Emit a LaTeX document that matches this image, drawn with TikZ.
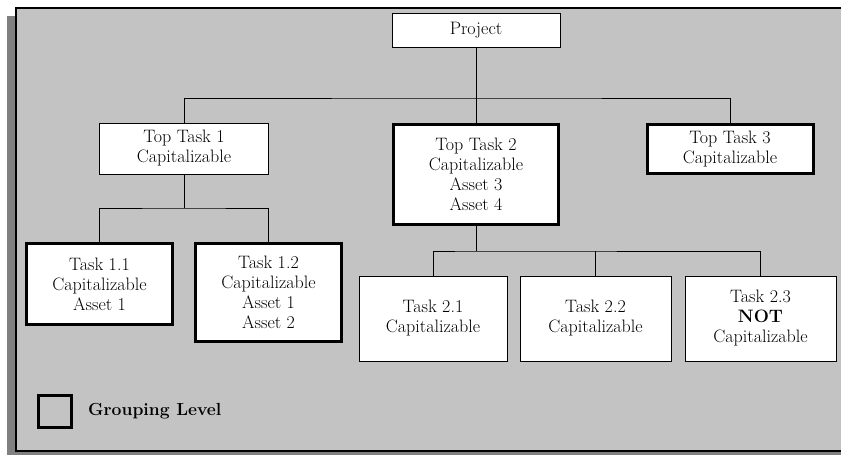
\documentclass[tikz,border=0pt]{standalone}
\usepackage{fontspec}
\definecolor{panelgray}{HTML}{C3C3C3}
\definecolor{shadowgray}{HTML}{808080}
\begin{document}
\begin{tikzpicture}[x=1pt,y=-1pt,
  txt/.style={font=\fontsize{18}{20}\selectfont},
  box/.style={txt, draw=black, line width=0.8pt, fill=white, align=center, inner sep=0pt},
  grp/.style={box, line width=3pt},
  conn/.style={draw=black, line width=0.9pt}]
\useasboundingbox (0,0) rectangle (841,455);
\fill[white] (0,0) rectangle (841,455);
% panel with drop shadow
\fill[shadowgray] (7,16) rectangle (850,462);
\filldraw[fill=panelgray, draw=black, line width=2.5pt] (16,8) rectangle (852,451);

% tree nodes
\node[box, minimum width=168pt, minimum height=34pt] (proj) at (476,30) {Project};
\node[box, minimum width=169pt, minimum height=51pt] (t1) at (184,148.5) {Top Task 1\\Capitalizable};
\node[grp, minimum width=165pt, minimum height=100pt] (t2) at (476,174.5) {Top Task 2\\Capitalizable\\Asset 3\\Asset 4};
\node[grp, minimum width=166pt, minimum height=49pt] (t3) at (730,149) {Top Task 3\\Capitalizable};
\node[grp, minimum width=146pt, minimum height=81pt] (t11) at (99.5,284) {Task 1.1\\Capitalizable\\Asset 1};
\node[grp, minimum width=146pt, minimum height=98pt] (t12) at (268.5,292.5) {Task 1.2\\Capitalizable\\Asset 1\\Asset 2};
\node[box, minimum width=148pt, minimum height=85pt] (t21) at (433,318.5) {Task 2.1\\Capitalizable};
\node[box, minimum width=151pt, minimum height=85pt] (t22) at (595.5,318.5) {Task 2.2\\Capitalizable};
\node[box, minimum width=151pt, minimum height=85pt] (t23) at (760.5,318.5) {Task 2.3\\\textbf{NOT}\\Capitalizable};

% bus junctions
\coordinate (bus0) at (proj.south |- 0,98);
\coordinate (bus1) at (t1.south |- 0,208);
\coordinate (bus2) at (t2.south |- 0,251);

% connectors
\draw[conn] (proj.south) -- (bus0);
\draw[conn] (t1.north) |- (bus0) -| (t3.north);
\draw[conn] (bus0) -- (t2.north);
\draw[conn] (t1.south) -- (bus1);
\draw[conn] (t11.north) |- (bus1) -| (t12.north);
\draw[conn] (t2.south) -- (bus2);
\draw[conn] (t21.north) |- (bus2) -| (t23.north);
\draw[conn] (t22.north) -- (t22.north |- bus2);

% legend
\node[draw=black, line width=3pt, fill=panelgray, minimum width=33pt, minimum height=32pt, inner sep=0pt] (legbox) at (55,411.5) {};
\node[font=\fontsize{17.5}{20}\selectfont\bfseries, anchor=west, inner sep=0pt] (legtext) at (88,411) {Grouping Level};
\end{tikzpicture}
\end{document}
